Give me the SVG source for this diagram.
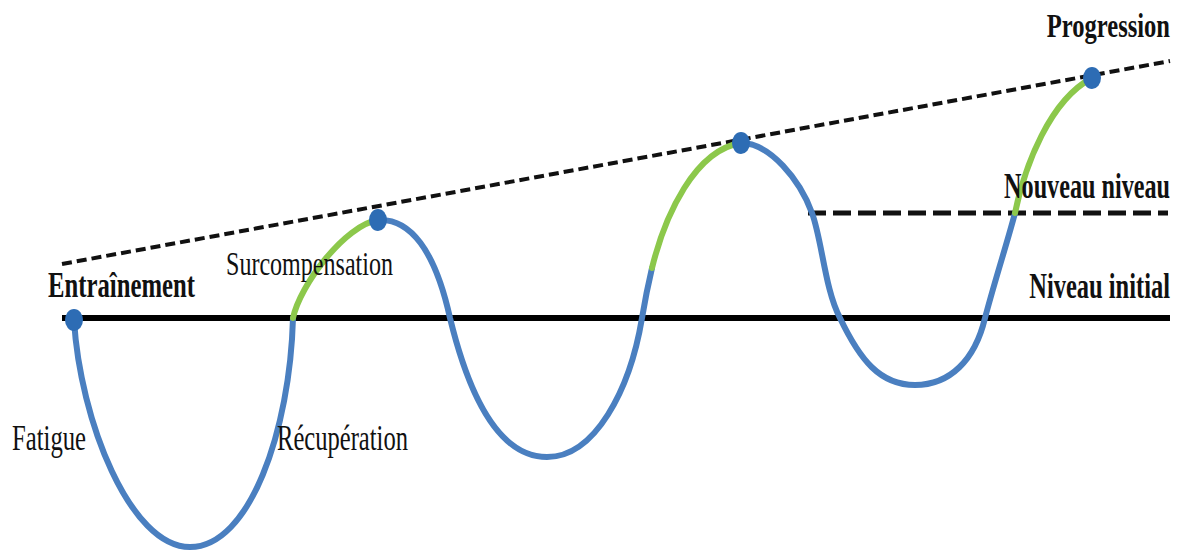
<svg xmlns="http://www.w3.org/2000/svg" width="1180" height="552" viewBox="0 0 1180 552">
  <style>
    .lbl { font-family: "Liberation Serif", "Times New Roman", serif; fill: #111; }
    .b { font-weight: bold; }
    .r { text-anchor: end; }
    .blue { fill: none; stroke: #4a7fc0; stroke-width: 6; stroke-linecap: round; }
    .green { fill: none; stroke: #8cc84b; stroke-width: 6; stroke-linecap: round; }
    .dot { fill: #2d6cb4; }
  </style>
  <rect width="1180" height="552" fill="#ffffff"/>
  <g id="connectors">
    <line id="trend" x1="62" y1="264" x2="1170" y2="61" stroke="#111" stroke-width="4" stroke-dasharray="10 5"/>
    <line id="baseline" x1="62" y1="318" x2="1170" y2="318" stroke="#000" stroke-width="6"/>
    <line id="new-level" x1="808" y1="213" x2="1168" y2="213" stroke="#111" stroke-width="5" stroke-dasharray="18 7"/>
    <path class="blue" d="M74,320 C80,420 130,547 190,547 C250,547 290,430 293,318"/>
    <path class="green" d="M293,318 C300,285 345,225 378,220"/>
    <path class="blue" d="M378,220 C410,218 435,250 450,318 C470,400 500,457 547,457 C595,457 630,390 642,318 C645,300 648,285 652,268"/>
    <path class="green" d="M652,268 C665,215 695,150 741,143"/>
    <path class="blue" d="M741,143 C770,143 800,180 812,213 C822,240 825,290 840,318 C860,360 880,385 915,385 C950,385 975,360 985,318 C995,280 1008,240 1015,213"/>
    <path class="green" d="M1015,213 C1025,165 1050,100 1092,78"/>
  </g>
  <g id="node-entrainement">
    <ellipse class="dot" cx="74" cy="320" rx="9" ry="11"/>
    <text class="lbl b" x="48" y="297" font-size="36" textLength="147" lengthAdjust="spacingAndGlyphs">Entraînement</text>
  </g>
  <g id="node-surcompensation">
    <ellipse class="dot" cx="378" cy="220" rx="9" ry="11"/>
    <text class="lbl" x="226" y="275" font-size="33" textLength="167" lengthAdjust="spacingAndGlyphs">Surcompensation</text>
  </g>
  <g id="node-peak2">
    <ellipse class="dot" cx="741" cy="143" rx="9" ry="11"/>
  </g>
  <g id="node-progression">
    <ellipse class="dot" cx="1092" cy="78" rx="9" ry="11"/>
    <text class="lbl b r" transform="translate(1170,37) scale(0.7,1)" x="0" y="0" font-size="33" textLength="176" lengthAdjust="spacingAndGlyphs">Progression</text>
  </g>
  <g id="label-fatigue">
    <text class="lbl" x="12" y="450" font-size="36" textLength="74" lengthAdjust="spacingAndGlyphs">Fatigue</text>
  </g>
  <g id="label-recuperation">
    <text class="lbl" x="277" y="450" font-size="36" textLength="131" lengthAdjust="spacingAndGlyphs">Récupération</text>
  </g>
  <g id="label-nouveau-niveau">
    <text class="lbl b r" transform="translate(1170,198) scale(0.7,1)" x="0" y="0" font-size="35" textLength="237" lengthAdjust="spacingAndGlyphs">Nouveau niveau</text>
  </g>
  <g id="label-niveau-initial">
    <text class="lbl b r" transform="translate(1170,298) scale(0.7,1)" x="0" y="0" font-size="35" textLength="201" lengthAdjust="spacingAndGlyphs">Niveau initial</text>
  </g>
</svg>
